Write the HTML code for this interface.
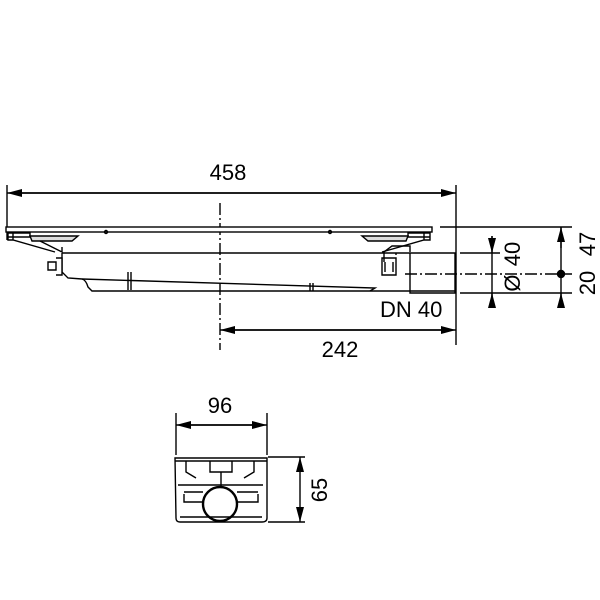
<!DOCTYPE html>
<html><head><style>html,body{margin:0;padding:0;background:#fff}svg{display:block}</style></head>
<body>
<svg width="600" height="600" viewBox="0 0 600 600" xmlns="http://www.w3.org/2000/svg" font-family="Liberation Sans, sans-serif">
<defs>
<marker id="a" viewBox="0 0 15 8" refX="15" refY="4" markerWidth="15" markerHeight="8" orient="auto" markerUnits="userSpaceOnUse"><path d="M0,0L15,4L0,8z" fill="#000"/></marker>
</defs>
<g stroke="#000" stroke-width="1.4" fill="none">
<!-- 458 dim -->
<line x1="7" y1="185" x2="7" y2="240"/>
<line x1="456" y1="185" x2="456" y2="345"/>
<line x1="20" y1="193" x2="456" y2="193" marker-end="url(#a)"/>
<line x1="444" y1="193" x2="7" y2="193" marker-end="url(#a)"/>
<!-- centerline -->
<line x1="220" y1="203" x2="220" y2="350" stroke-dasharray="12,3,2,3"/>
<!-- 242 dim -->
<line x1="232" y1="330" x2="456" y2="330" marker-end="url(#a)"/>
<line x1="444" y1="330" x2="220" y2="330" marker-end="url(#a)"/>
<!-- plate -->
<rect x="6" y="227" width="426" height="5" fill="#fff"/>
<path d="M8,232 V240 H13 L55,252 M13,240 V232 M8,233 H30 V237 H8"/>
<path d="M30,236 H78 L72,241 H32 Z" fill="#ddd"/>
<path d="M40,241 L62,252 L62,247"/>
<path d="M430,232 V240 H424 L382,252 M424,240 V232 M430,233 H408 V237 H430"/>
<path d="M408,236 H362 L368,241 H406 Z" fill="#ddd"/>
<circle cx="106" cy="232" r="1.5"/><circle cx="330" cy="232" r="1.5"/>
<!-- body -->
<path d="M62,253 H410 V293 L455,293 V253 H410"/>
<path d="M62,253 V272 L68,278 L82,279 Q86,280 88,287 L92,291 H455"/>
<path d="M82,279 L375,288 L370,291"/>
<path d="M128,272 V290 M131,272 V290 M310,283 V291 M313,283 V291"/>
<path d="M48,262 H56 V270 H48 Z M56,258 H62 V275 H56" fill="#fff"/>
<path d="M382,258 H396 V275 H382 Z M385,262 V272 M393,262 V272" fill="#fff"/>
<path d="M396,255 V253 M384,262 L384,252 L392,246 L410,246 V252"/>
<!-- right dims -->
<line x1="440" y1="227" x2="572" y2="227"/>
<line x1="460" y1="253" x2="500" y2="253"/>
<line x1="460" y1="293" x2="572" y2="293"/>
<line x1="405" y1="274" x2="572" y2="274" stroke-dasharray="12,3,2,3"/>
<line x1="492" y1="236" x2="492" y2="308"/>
<line x1="492" y1="236" x2="492" y2="253" marker-end="url(#a)"/>
<line x1="492" y1="308" x2="492" y2="293" marker-end="url(#a)"/>
<line x1="561" y1="227" x2="561" y2="308"/>
<line x1="561" y1="248" x2="561" y2="227" marker-end="url(#a)"/>
<line x1="561" y1="308" x2="561" y2="293" marker-end="url(#a)"/>
<circle cx="561" cy="274" r="3.5" fill="#000"/>
<!-- bottom view -->
<line x1="176" y1="413" x2="176" y2="455"/>
<line x1="267" y1="413" x2="267" y2="455"/>
<line x1="188" y1="425" x2="267" y2="425" marker-end="url(#a)"/>
<line x1="255" y1="425" x2="176" y2="425" marker-end="url(#a)"/>
<line x1="268" y1="457" x2="305" y2="457"/>
<line x1="268" y1="522" x2="305" y2="522"/>
<line x1="300" y1="472" x2="300" y2="457" marker-end="url(#a)"/>
<line x1="300" y1="508" x2="300" y2="522" marker-end="url(#a)"/>
<line x1="300" y1="472" x2="300" y2="508"/>
<path d="M175,458 H267 V518 Q267,522 262,522 H180 Q176,522 176,518 Z"/>
<line x1="175" y1="461" x2="267" y2="461"/>
<path d="M178,485 H263 M180,517 H262"/>
<circle cx="220" cy="504" r="17" stroke-width="2.4"/>
<path d="M184,492 H203 M237,492 H258 M184,494 V502 H202 M258,494 V502 H238"/>
<path d="M186,461 V472 L196,478 M254,461 V472 L244,478 M210,461 V472 H232 V461 M221,472 V487"/>
</g>
<g font-size="22" fill="#000">
<text x="228" y="180" text-anchor="middle">458</text>
<text x="340" y="357" text-anchor="middle">242</text>
<text x="380" y="317">DN 40</text>
<text x="220" y="413" text-anchor="middle">96</text>
<text transform="translate(327,490) rotate(-90)" text-anchor="middle">65</text>
<text transform="translate(520,254) rotate(-90)" text-anchor="middle">40</text>
<text transform="translate(520,283) rotate(-90)" text-anchor="middle">Ø</text>
<text transform="translate(595,244) rotate(-90)" text-anchor="middle">47</text>
<text transform="translate(595,283) rotate(-90)" text-anchor="middle">20</text>
</g>
</svg>
</body></html>
